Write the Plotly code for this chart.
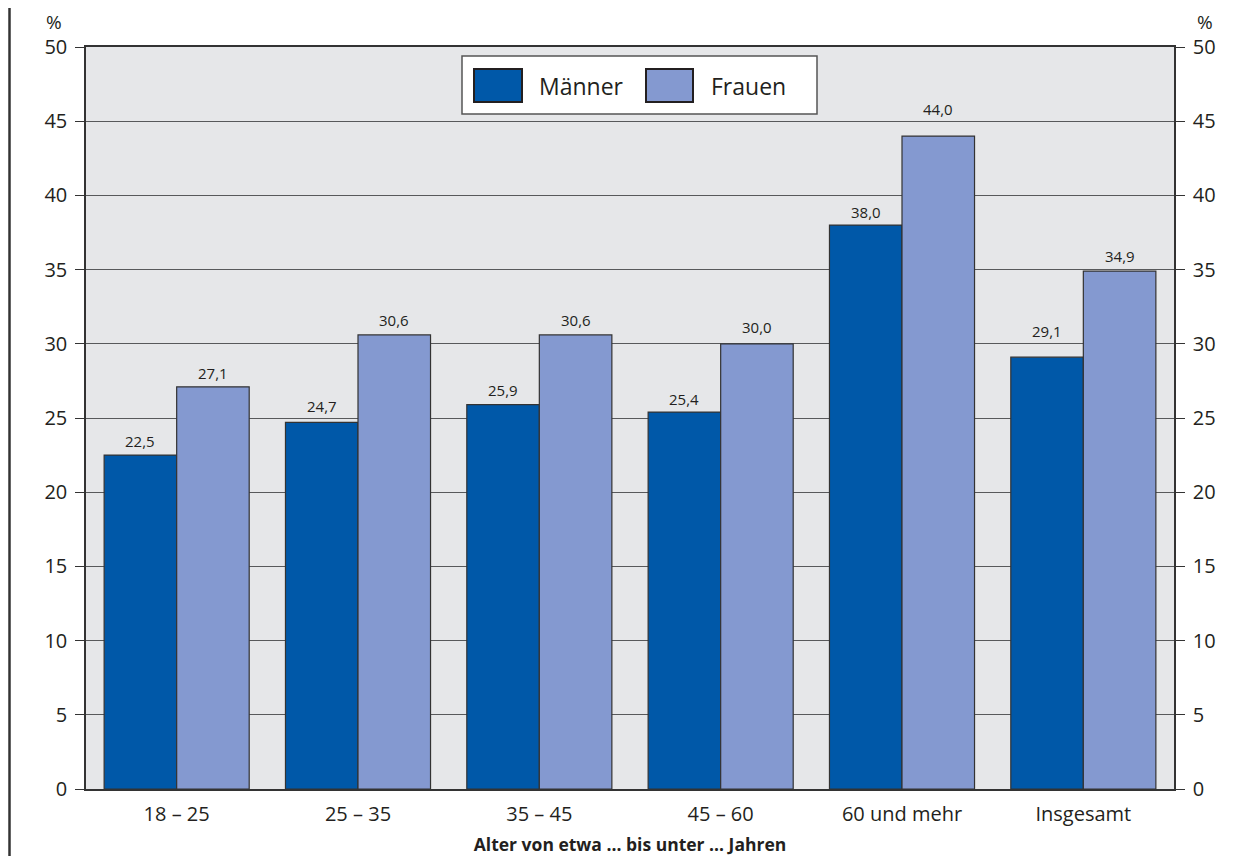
import plotly.graph_objects as go

categories = ["18 – 25", "25 – 35", "35 – 45", "45 – 60", "60 und mehr", "Insgesamt"]
maenner = [22.5, 24.7, 25.9, 25.4, 38.0, 29.1]
frauen = [27.1, 30.6, 30.6, 30.0, 44.0, 34.9]
y_ticks = [0, 5, 10, 15, 20, 25, 30, 35, 40, 45, 50]
series_names = ["Männer", "Frauen"]
colors = ["#0058a8", "#8499d0"]

# label lift above bar tops (styling, px)
label_lift_m = [14, 16, 15, 13, 13, 26]
label_lift_f = [14, 15, 15, 17, 27, 15]

OFF = 8  # page body margin
W, H = 1252 - OFF, 856 - OFF
L, R, T, B = 86 - OFF, 1174 - OFF, 47 - OFF, 789 - OFF
pw, ph = R - L, B - T

def px_x(x):
    return (x - OFF - L) / pw

def px_y(y):
    return (B - (y - OFF)) / ph

FONT = "Open Sans, Noto Sans, sans-serif"
DARK = "#231f20"
BARGAP = 0.2

fig = go.Figure()
for name, vals, col in zip(series_names, [maenner, frauen], colors):
    fig.add_trace(go.Bar(
        x=categories, y=vals, name=name,
        marker=dict(color=col, line=dict(color="#333333", width=1.2)),
        showlegend=False, hoverinfo="x+y+name",
    ))
# invisible trace so the right-hand axis is drawn
fig.add_trace(go.Scatter(x=categories, y=frauen, yaxis="y2", mode="markers",
                         marker=dict(opacity=0), hoverinfo="skip", showlegend=False))

# value labels
cat_w = pw / len(categories)
half_bar = cat_w * (1 - BARGAP) / 4
for vals, lifts, sgn in [(maenner, label_lift_m, -1), (frauen, label_lift_f, 1)]:
    for c, v, lift in zip(categories, vals, lifts):
        fig.add_annotation(x=c, y=v, xref="x", yref="y",
                           text=f"{v:.1f}".replace(".", ","), showarrow=False,
                           xanchor="center", yanchor="middle",
                           xshift=sgn * half_bar, yshift=lift,
                           font=dict(family=FONT, size=15, color=DARK))

axis_common = dict(
    range=[0, 50], tickvals=y_ticks, ticks="outside", ticklen=9, tickwidth=1.2,
    tickcolor="#333333", tickfont=dict(family=FONT, size=20, color=DARK),
    showline=True, linecolor="#333333", linewidth=1.5, automargin=False,
)

fig.update_layout(
    width=W, height=H,
    margin=dict(l=L, r=W - R, t=T, b=H - B, autoexpand=False),
    paper_bgcolor="white", plot_bgcolor="#e6e7e9",
    separators=",.",
    barmode="group", bargap=BARGAP, bargroupgap=0,
    xaxis=dict(
        showline=True, linecolor="#333333", linewidth=1.5, mirror=True,
        ticks="", tickfont=dict(family=FONT, size=20, color=DARK),
        ticklabelstandoff=6, automargin=False,
        title=dict(text="<b>Alter von etwa ... bis unter ... Jahren</b>",
                   font=dict(family=FONT, size=17.5, color=DARK), standoff=14),
    ),
    yaxis=dict(**axis_common, showgrid=True, gridcolor="#58595b", gridwidth=1,
               zeroline=False, side="left", ticklabelstandoff=4),
    yaxis2=dict(**axis_common, overlaying="y", side="right", showgrid=False,
                zeroline=False, ticklabelstandoff=4),
)

# percent unit labels
for xp in (54, 1205):
    fig.add_annotation(x=px_x(xp), y=px_y(22), xref="paper", yref="paper", text="%",
                       showarrow=False, xanchor="center", yanchor="middle", borderpad=0,
                       font=dict(family=FONT, size=19, color=DARK))

# outer frame lines
fig.add_shape(type="line", xref="paper", yref="paper", x0=px_x(9.5), x1=px_x(9.5),
              y0=px_y(0), y1=px_y(856), line=dict(color="#333333", width=2.5))
fig.add_shape(type="line", xref="paper", yref="paper", x0=px_x(1250), x1=px_x(1250),
              y0=px_y(0), y1=px_y(856), line=dict(color="#c8c8c8", width=1.5))

# custom legend
fig.add_shape(type="rect", xref="paper", yref="paper", x0=px_x(462), x1=px_x(817),
              y0=px_y(114), y1=px_y(56), fillcolor="white",
              line=dict(color="#555555", width=1.5), layer="above")
sw = [(474, 522, 537), (646, 693, 709)]
for (x0, x1, tx), name, col in zip(sw, series_names, colors):
    fig.add_shape(type="rect", xref="paper", yref="paper", x0=px_x(x0), x1=px_x(x1),
                  y0=px_y(102), y1=px_y(69), fillcolor=col,
                  line=dict(color=DARK, width=2), layer="above")
    fig.add_annotation(x=px_x(tx), y=px_y(86), xref="paper", yref="paper", text=name,
                       xanchor="left", yanchor="middle", showarrow=False,
                       font=dict(family=FONT, size=23, color=DARK))

fig.write_html("out.html")
